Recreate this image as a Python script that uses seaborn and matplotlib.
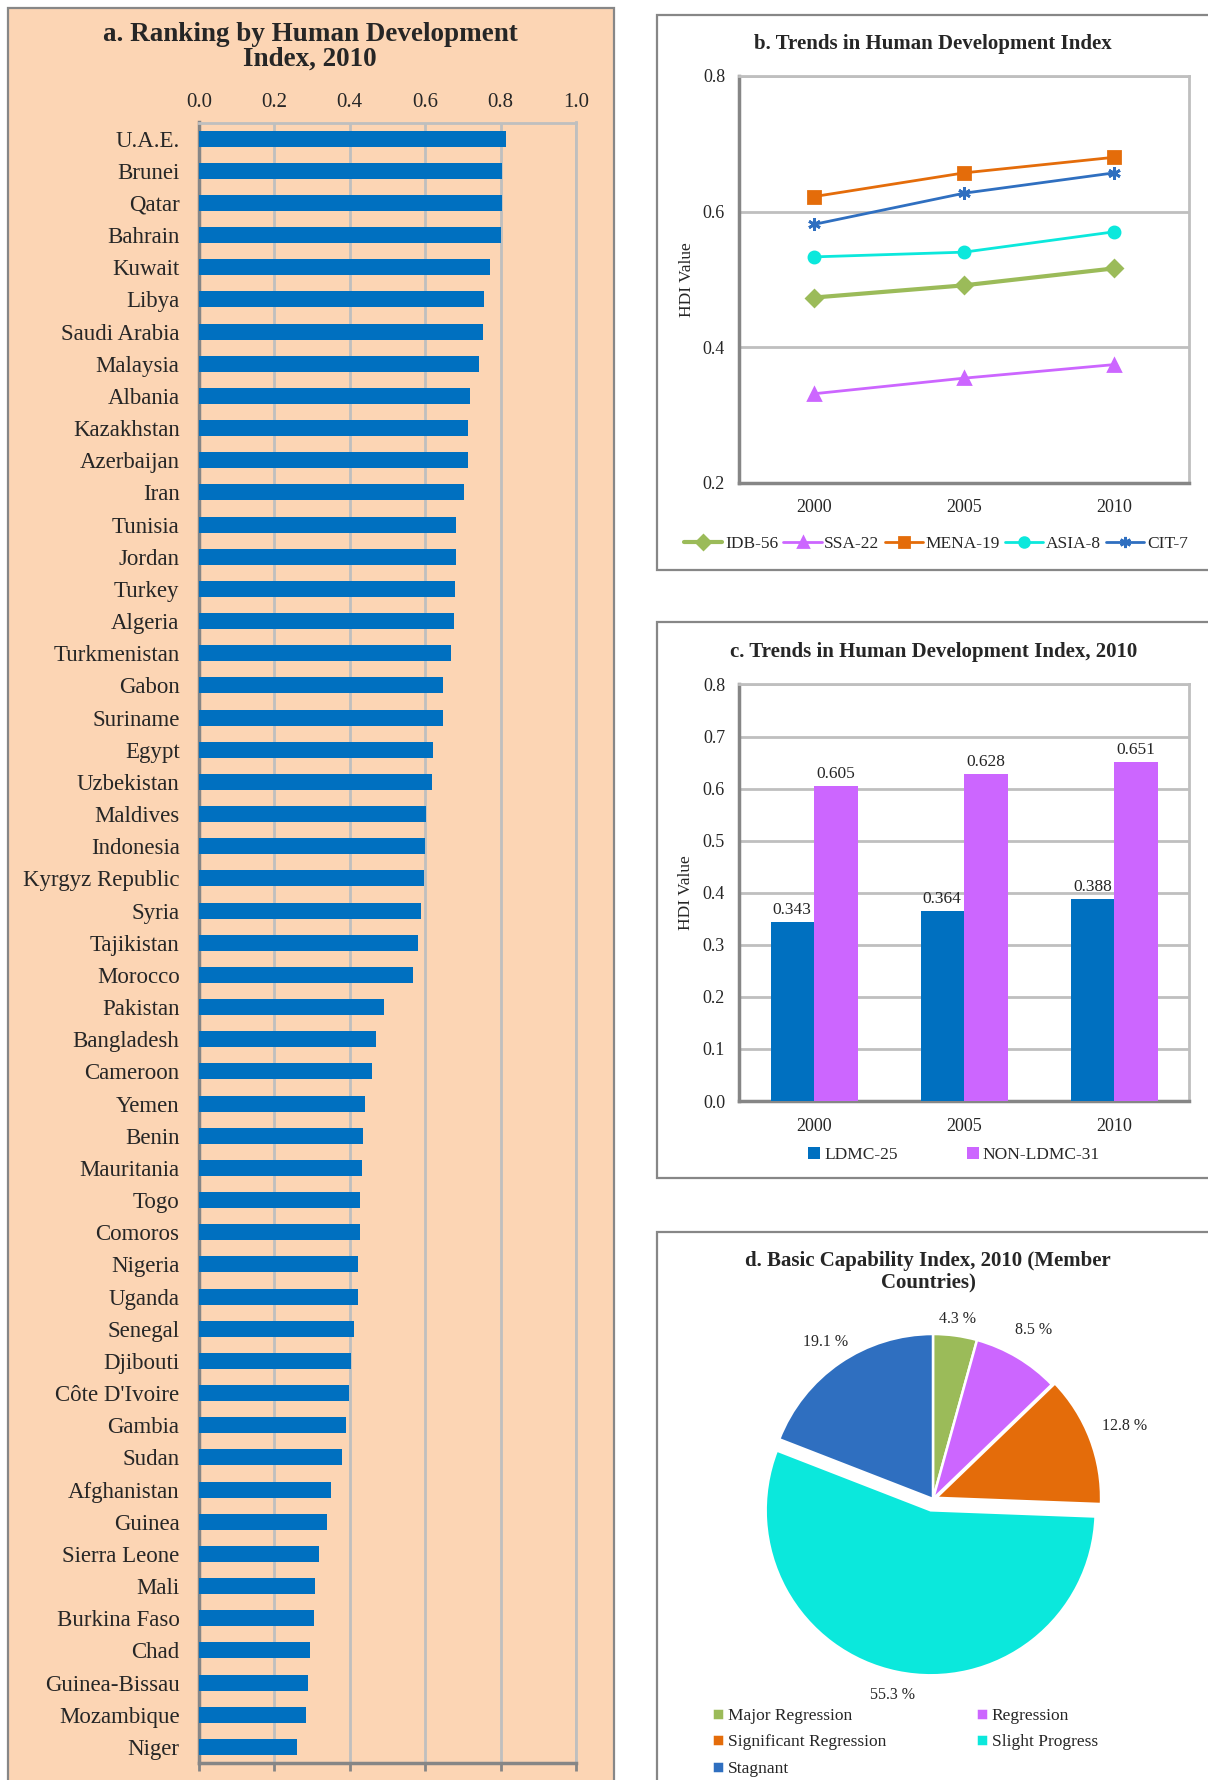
import numpy as np
import pandas as pd
import seaborn as sns
import matplotlib.pyplot as plt
from matplotlib.patches import Rectangle
from matplotlib.lines import Line2D

# --- data -------------------------------------------------------------
countries = ["U.A.E.", "Brunei", "Qatar", "Bahrain", "Kuwait", "Libya", "Saudi Arabia",
             "Malaysia", "Albania", "Kazakhstan", "Azerbaijan", "Iran", "Tunisia", "Jordan",
             "Turkey", "Algeria", "Turkmenistan", "Gabon", "Suriname", "Egypt", "Uzbekistan",
             "Maldives", "Indonesia", "Kyrgyz Republic", "Syria", "Tajikistan", "Morocco",
             "Pakistan", "Bangladesh", "Cameroon", "Yemen", "Benin", "Mauritania", "Togo",
             "Comoros", "Nigeria", "Uganda", "Senegal", "Djibouti", "Côte D'Ivoire", "Gambia",
             "Sudan", "Afghanistan", "Guinea", "Sierra Leone", "Mali", "Burkina Faso", "Chad",
             "Guinea-Bissau", "Mozambique", "Niger"]
hdi_2010 = [0.815, 0.805, 0.803, 0.801, 0.771, 0.755, 0.752, 0.744, 0.719, 0.714, 0.713,
            0.702, 0.683, 0.681, 0.679, 0.677, 0.669, 0.648, 0.646, 0.620, 0.617, 0.602,
            0.600, 0.598, 0.589, 0.580, 0.567, 0.490, 0.469, 0.460, 0.439, 0.435, 0.433,
            0.428, 0.428, 0.423, 0.422, 0.411, 0.402, 0.397, 0.390, 0.379, 0.349, 0.340,
            0.317, 0.309, 0.305, 0.295, 0.289, 0.284, 0.261]

years = ["2000", "2005", "2010"]
trend_series = ["IDB-56", "SSA-22", "MENA-19", "ASIA-8", "CIT-7"]
idb_56 = [0.473, 0.491, 0.516]
ssa_22 = [0.331, 0.354, 0.374]
mena_19 = [0.622, 0.657, 0.680]
asia_8 = [0.533, 0.540, 0.570]
cit_7 = [0.581, 0.627, 0.657]

groups = ["LDMC-25", "NON-LDMC-31"]
ldmc_25 = [0.343, 0.364, 0.388]
non_ldmc_31 = [0.605, 0.628, 0.651]

bci_labels = ["Major Regression", "Regression", "Significant Regression",
              "Slight Progress", "Stagnant"]
bci_share = [4.3, 8.5, 12.8, 55.3, 19.1]

# --- style ------------------------------------------------------------
sns.set_style("white")
plt.rcParams['font.family'] = ['Liberation Serif', 'DejaVu Serif']

W, H = 1208, 1780
fig = plt.figure(figsize=(W / 100, H / 100), dpi=100)


def rect(left, top, right, bottom):
    return [left / W, 1 - bottom / H, (right - left) / W, (bottom - top) / H]


def box(left, top, right, bottom, face):
    fig.add_artist(Rectangle((left / W, 1 - bottom / H), (right - left) / W, (bottom - top) / H,
                             transform=fig.transFigure, facecolor=face, edgecolor='#878787',
                             linewidth=1.6, zorder=0))


peach = '#FCD5B4'
grid_c = '#BFBFBF'
spine_c = '#868686'
box(8, 8, 614, 1795, peach)
box(657, 15, 1220, 570, 'white')
box(657, 622, 1220, 1178, 'white')
box(657, 1232, 1220, 1795, 'white')

# --- a. ranking bar chart ------------------------------------------------
ax_a = fig.add_axes(rect(199, 122.5, 576, 1763))
df_a = pd.DataFrame({'country': countries, 'hdi': hdi_2010})
sns.barplot(data=df_a, y='country', x='hdi', color='#0070C0', saturation=1,
            width=0.5, linewidth=0, ax=ax_a, zorder=3)
ax_a.set_facecolor(peach)
ax_a.set_xlim(0, 1)
ax_a.set_ylim(len(countries) - 0.5, -0.5)
ax_a.set_xticks(np.arange(0, 1.01, 0.2))
ax_a.set_xticklabels([f"{v:.1f}" for v in np.arange(0, 1.01, 0.2)])
ax_a.set_xlabel("")
ax_a.set_ylabel("")
ax_a.grid(axis='x', color=grid_c, linewidth=2, zorder=0)
ax_a.set_axisbelow(True)
ax_a.tick_params(axis='x', top=False, labeltop=True, bottom=True, labelbottom=False,
                 length=6, width=2, color=spine_c, labelsize=15, pad=1.5)
ax_a.tick_params(axis='y', which='major', length=0, labelsize=16.5, pad=14)
ax_a.set_yticks(np.arange(-0.5, len(countries), 1.0), minor=True)
ax_a.tick_params(axis='y', which='minor', length=6, width=2, color=spine_c)
for s in ['left', 'bottom']:
    ax_a.spines[s].set_color(spine_c)
    ax_a.spines[s].set_linewidth(2.5)
for s in ['top', 'right']:
    ax_a.spines[s].set_color(grid_c)
    ax_a.spines[s].set_linewidth(2)
fig.text(310 / W, 1 - 47 / H, "a. Ranking by Human Development\nIndex, 2010", ha='center',
         va='center', fontsize=19.5, fontweight='bold', linespacing=1.0)

# --- b. trends line chart ----------------------------------------------
ax_b = fig.add_axes(rect(739, 76, 1189, 482.5))
trend_values = [idb_56, ssa_22, mena_19, asia_8, cit_7]
trend_colors = ['#9BBB59', '#CC66FF', '#E46C0A', '#0BE8DC', '#2F6FC0']
trend_markers = ['D', '^', 's', 'o', (6, 2, 0)]
trend_sizes = [8, 8.5, 8, 8, 9]
trend_lw = [3, 2, 2, 2, 2]
xpos = [0, 1, 2]
handles = []
for name, vals, col, mk, ms, lw in zip(trend_series, trend_values, trend_colors,
                                       trend_markers, trend_sizes, trend_lw):
    df_b = pd.DataFrame({'x': xpos, 'hdi': vals})
    sns.lineplot(data=df_b, x='x', y='hdi', color=col, marker=mk, markersize=ms,
                 linewidth=lw, markeredgecolor=col, markeredgewidth=2, ax=ax_b, zorder=3)
    handles.append(Line2D([], [], color=col, marker=mk, markersize=ms - 1, linewidth=lw,
                          markeredgecolor=col, markeredgewidth=2, label=name))
ax_b.set_xlim(-0.5, 2.5)
ax_b.set_ylim(0.2, 0.8)
ax_b.set_yticks([0.2, 0.4, 0.6, 0.8])
ax_b.set_yticklabels(["0.2", "0.4", "0.6", "0.8"])
ax_b.set_xticks(xpos)
ax_b.set_xticklabels(years)
ax_b.set_xticks([-0.5, 0.5, 1.5, 2.5], minor=True)
ax_b.tick_params(axis='x', which='major', length=0, labelsize=13, pad=12)
ax_b.tick_params(axis='x', which='minor', length=6, width=2, color=spine_c)
ax_b.tick_params(axis='y', length=6, width=2, color=spine_c, labelsize=13, pad=4)
ax_b.grid(axis='y', color=grid_c, linewidth=2, zorder=0)
ax_b.set_xlabel("")
ax_b.set_ylabel("HDI Value", fontsize=12.5, labelpad=6)
for s in ['left', 'bottom']:
    ax_b.spines[s].set_color(spine_c)
    ax_b.spines[s].set_linewidth(2.5)
for s in ['top', 'right']:
    ax_b.spines[s].set_color(grid_c)
    ax_b.spines[s].set_linewidth(2)
ax_b.legend(handles=handles, ncol=5, loc='center', bbox_to_anchor=(936 / W, 1 - 544 / H),
            bbox_transform=fig.transFigure, frameon=False, fontsize=12.5, handlelength=2.2,
            handletextpad=0.15, columnspacing=0.3)
fig.text(933 / W, 1 - 44 / H, "b. Trends in Human Development Index", ha='center',
         va='center', fontsize=15, fontweight='bold')

# --- c. grouped bars ---------------------------------------------------
ax_c = fig.add_axes(rect(739, 684.5, 1189, 1101))
df_c = pd.DataFrame({'year': years * 2,
                     'group': [groups[0]] * 3 + [groups[1]] * 3,
                     'hdi': ldmc_25 + non_ldmc_31})
sns.barplot(data=df_c, x='year', y='hdi', hue='group', palette=['#0070C0', '#CC66FF'],
            saturation=1, width=0.58, gap=0, linewidth=0, ax=ax_c, zorder=3)
for cont in ax_c.containers:
    ax_c.bar_label(cont, fmt='%.3f', padding=3, fontsize=12.5)
ax_c.set_xlim(-0.5, 2.5)
ax_c.set_ylim(0, 0.8)
ax_c.set_yticks(np.arange(0, 0.81, 0.1))
ax_c.set_yticklabels([f"{v:.1f}" for v in np.arange(0, 0.81, 0.1)])
ax_c.set_xticks([-0.5, 0.5, 1.5, 2.5], minor=True)
ax_c.tick_params(axis='x', which='major', length=0, labelsize=13, pad=12)
ax_c.tick_params(axis='x', which='minor', length=6, width=2, color=spine_c)
ax_c.tick_params(axis='y', length=6, width=2, color=spine_c, labelsize=13, pad=4)
ax_c.grid(axis='y', color=grid_c, linewidth=2, zorder=0)
ax_c.set_xlabel("")
ax_c.set_ylabel("HDI Value", fontsize=12.5, labelpad=6)
for s in ['left', 'bottom']:
    ax_c.spines[s].set_color(spine_c)
    ax_c.spines[s].set_linewidth(2.5)
for s in ['top', 'right']:
    ax_c.spines[s].set_color(grid_c)
    ax_c.spines[s].set_linewidth(2)
ax_c.legend(ncol=2, loc='center', bbox_to_anchor=(954 / W, 1 - 1155 / H),
            bbox_transform=fig.transFigure, frameon=False, fontsize=12.5, handlelength=0.7,
            handleheight=0.7, handletextpad=0.2, columnspacing=4.0, title=None)
fig.text(934 / W, 1 - 651.5 / H, "c. Trends in Human Development Index, 2010", ha='center',
         va='center', fontsize=15, fontweight='bold')

# --- d. pie ------------------------------------------------------------
r = 165
cx, cy = 933, 1499
ax_d = fig.add_axes(rect(cx - 1.25 * r, cy - 1.25 * r, cx + 1.25 * r, cy + 1.25 * r))
pie_colors = ['#9BBB59', '#CC66FF', '#E46C0A', '#0BE8DC', '#2F6FC0']
pie_explode = [0, 0, 0.02, 0.07, 0]
label_dist = [1.10, 1.19, 1.22, 1.14, 1.15]  # excel "best fit" label placement
wedges, _, autotexts = ax_d.pie(bci_share, colors=pie_colors, startangle=90, counterclock=False,
                                explode=pie_explode, autopct='%.1f %%', pctdistance=1.18,
                                wedgeprops=dict(edgecolor='white', linewidth=1.8),
                                textprops=dict(fontsize=11.5))
for w, t, d in zip(wedges, autotexts, label_dist):
    ang = np.deg2rad((w.theta1 + w.theta2) / 2)
    t.set_position((w.center[0] + d * np.cos(ang), w.center[1] + d * np.sin(ang)))
ax_d.set_xlim(-1.25, 1.25)
ax_d.set_ylim(-1.25, 1.25)
ax_d.set_aspect('equal')
ax_d.axis('off')
order = [0, 2, 4, 1, 3]
ax_d.legend([wedges[i] for i in order], [bci_labels[i] for i in order], ncol=2,
            loc='upper left', bbox_to_anchor=(712 / W, 1 - 1707.5 / H),
            bbox_transform=fig.transFigure, frameon=False, fontsize=12.5, handlelength=0.7,
            handleheight=0.7, handletextpad=0.2, columnspacing=5.2, labelspacing=0.6,
            borderaxespad=0, borderpad=0)
fig.text(928 / W, 1 - 1272 / H, "d. Basic Capability Index, 2010 (Member\nCountries)",
         ha='center', va='center', fontsize=15, fontweight='bold', linespacing=1.1)

fig.savefig("out.png", dpi=100)
